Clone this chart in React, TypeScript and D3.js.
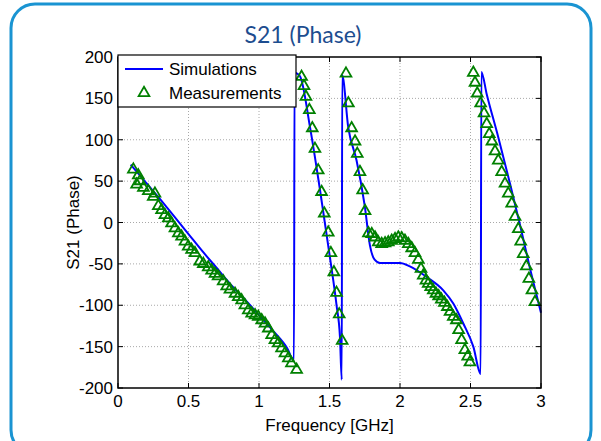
import * as d3 from "d3";

type Pt = [number, number];

// simulated S21 phase (GHz, degrees)
const simulations: Pt[] = [
  [0.09, 70], [0.2, 48], [0.3, 28], [0.4, 7], [0.5, -14], [0.6, -35], [0.7, -55],
  [0.8, -75], [0.9, -93], [1.0, -112], [1.1, -131], [1.2, -152], [1.248, -167],
  [1.252, 181], [1.29, 177], [1.362, 115], [1.433, 39], [1.503, -42], [1.55, -100],
  [1.574, -138], [1.587, -190],
  [1.59, 178], [1.633, 115], [1.692, 75], [1.75, 20], [1.787, -28], [1.82, -45],
  [1.858, -49], [1.93, -49], [2.0, -49], [2.07, -53], [2.19, -66], [2.307, -82],
  [2.378, -98], [2.449, -122], [2.52, -150], [2.572, -183],
  [2.577, 182], [2.615, 155], [2.697, 103], [2.78, 47], [2.85, -2], [2.92, -54], [3.0, -109],
];

// measured S21 phase (GHz, degrees)
const measurements: Pt[] = [
  [0.109, 64], [0.132, 46], [0.144, 57], [0.156, 50], [0.18, 42], [0.215, 38], [0.25, 31],
  [0.262, 35], [0.286, 20], [0.309, 15], [0.333, 9], [0.357, 5], [0.38, -1], [0.404, -7],
  [0.428, -13], [0.451, -17], [0.475, -23], [0.498, -29], [0.522, -33], [0.546, -37],
  [0.58, -47], [0.605, -50], [0.64, -54], [0.664, -58], [0.688, -62], [0.71, -65],
  [0.746, -71], [0.771, -77], [0.794, -81], [0.83, -86], [0.853, -90], [0.877, -94],
  [0.9, -100], [0.924, -106], [0.948, -110], [0.972, -112], [0.995, -114], [1.019, -118],
  [1.043, -122], [1.066, -128], [1.09, -136], [1.113, -142], [1.137, -146], [1.16, -152],
  [1.184, -158], [1.208, -164], [1.23, -170], [1.267, -178],
  [1.302, 176], [1.319, 165], [1.333, 152], [1.357, 136], [1.378, 114], [1.397, 89],
  [1.42, 63], [1.444, 37], [1.463, 11], [1.491, -12], [1.51, -37], [1.531, -60],
  [1.55, -85], [1.569, -111], [1.59, -143],
  [1.617, 180], [1.634, 144], [1.657, 114], [1.681, 98], [1.697, 83], [1.716, 61],
  [1.735, 39], [1.752, 14], [1.776, -13], [1.8, -14], [1.823, -18], [1.846, -24],
  [1.87, -26], [1.894, -25], [1.917, -24], [1.941, -22], [1.965, -20], [1.988, -18],
  [2.012, -19], [2.035, -22], [2.059, -26], [2.083, -31], [2.106, -37], [2.13, -45],
  [2.149, -56], [2.165, -64], [2.184, -70], [2.2, -74], [2.218, -78], [2.236, -82],
  [2.255, -86], [2.274, -89], [2.293, -93], [2.315, -97], [2.336, -102], [2.355, -108],
  [2.378, -114], [2.4, -118], [2.416, -130], [2.437, -142], [2.46, -154], [2.48, -162],
  [2.496, -169],
  [2.52, 181], [2.532, 169], [2.548, 156], [2.572, 144], [2.596, 132], [2.615, 119],
  [2.633, 107], [2.652, 98], [2.674, 86], [2.697, 75], [2.721, 61], [2.745, 47],
  [2.768, 35], [2.792, 23], [2.816, 7], [2.839, -8], [2.856, -23], [2.874, -38],
  [2.896, -53], [2.914, -68], [2.936, -82], [2.957, -96],
];

const xTicks = [0, 0.5, 1, 1.5, 2, 2.5, 3];
const yTicks = [-200, -150, -100, -50, 0, 50, 100, 150, 200];

const W = 601;
const H = 441;
const PLOT = { left: 118, right: 541, top: 57, bottom: 388 };
const FONT = "Liberation Sans, Arial, sans-serif";
const SIM_COLOR = "#0000ff";
const MEAS_COLOR = "#008000";

export default function App() {
  const x = d3.scaleLinear().domain([0, 3]).range([PLOT.left, PLOT.right]);
  const y = d3.scaleLinear().domain([-200, 200]).range([PLOT.bottom, PLOT.top]);

  const line = d3
    .line<Pt>()
    .x((d) => x(d[0]))
    .y((d) => y(d[1]))
    .curve(d3.curveMonotoneX);

  const tri = d3.symbol().type(d3.symbolTriangle).size(50)() as string;

  const legX = PLOT.left;
  const legY = 55;

  return (
    <svg
      width={W}
      height={H}
      style={{ position: "absolute", left: 0, top: 0, background: "#fff" }}
    >
      <rect x={11} y={4} width={580} height={450} rx={24} fill="none" stroke="#1a94d2" strokeWidth={3} />
      <text x={303} y={43} textAnchor="middle" fontFamily="Lato, Open Sans, sans-serif" fontSize={23} fill="#1d4d8f">
        S21 (Phase)
      </text>

      {/* grid */}
      <g stroke="#a8a8a8" strokeWidth={1} strokeDasharray="1 2">
        {xTicks.slice(1, -1).map((t) => (
          <line key={"gx" + t} x1={x(t)} x2={x(t)} y1={PLOT.top} y2={PLOT.bottom} />
        ))}
        {yTicks.slice(1, -1).map((t) => (
          <line key={"gy" + t} x1={PLOT.left} x2={PLOT.right} y1={y(t)} y2={y(t)} />
        ))}
      </g>

      {/* data */}
      <path d={line(simulations) ?? ""} fill="none" stroke={SIM_COLOR} strokeWidth={2} />
      <g fill="none" stroke={MEAS_COLOR} strokeWidth={1.8}>
        {measurements.map((d, i) => (
          <path key={i} d={tri} transform={`translate(${x(d[0])},${y(d[1])})`} />
        ))}
      </g>

      {/* axes box and ticks */}
      <rect
        x={PLOT.left}
        y={PLOT.top}
        width={PLOT.right - PLOT.left}
        height={PLOT.bottom - PLOT.top}
        fill="none"
        stroke="#000"
        strokeWidth={1.5}
      />
      <g stroke="#000" strokeWidth={1}>
        {xTicks.map((t) => (
          <g key={"tx" + t}>
            <line x1={x(t)} x2={x(t)} y1={PLOT.bottom} y2={PLOT.bottom - 5} />
            <line x1={x(t)} x2={x(t)} y1={PLOT.top} y2={PLOT.top + 5} />
          </g>
        ))}
        {yTicks.map((t) => (
          <g key={"ty" + t}>
            <line x1={PLOT.left} x2={PLOT.left + 5} y1={y(t)} y2={y(t)} />
            <line x1={PLOT.right} x2={PLOT.right - 5} y1={y(t)} y2={y(t)} />
          </g>
        ))}
      </g>
      <g fontFamily={FONT} fontSize={17} fill="#000">
        {xTicks.map((t) => (
          <text key={"lx" + t} x={x(t)} y={PLOT.bottom + 19} textAnchor="middle">
            {t}
          </text>
        ))}
        {yTicks.map((t) => (
          <text key={"ly" + t} x={PLOT.left - 5} y={y(t) + 6} textAnchor="end">
            {t}
          </text>
        ))}
        <text x={(PLOT.left + PLOT.right) / 2} y={431} textAnchor="middle">
          Frequency [GHz]
        </text>
        <text transform={`translate(79,${(PLOT.top + PLOT.bottom) / 2}) rotate(-90)`} textAnchor="middle">
          S21 (Phase)
        </text>
      </g>

      {/* legend */}
      <g>
        <rect x={legX} y={legY} width={178} height={52} fill="#fff" stroke="#000" strokeWidth={1.2} />
        <line x1={legX + 7} x2={legX + 45} y1={legY + 14} y2={legY + 14} stroke={SIM_COLOR} strokeWidth={2} />
        <path d={tri} transform={`translate(${legX + 26},${legY + 38})`} fill="none" stroke={MEAS_COLOR} strokeWidth={1.8} />
        <text x={legX + 51} y={legY + 20} fontFamily={FONT} fontSize={17}>
          Simulations
        </text>
        <text x={legX + 51} y={legY + 44} fontFamily={FONT} fontSize={17}>
          Measurements
        </text>
      </g>
    </svg>
  );
}
